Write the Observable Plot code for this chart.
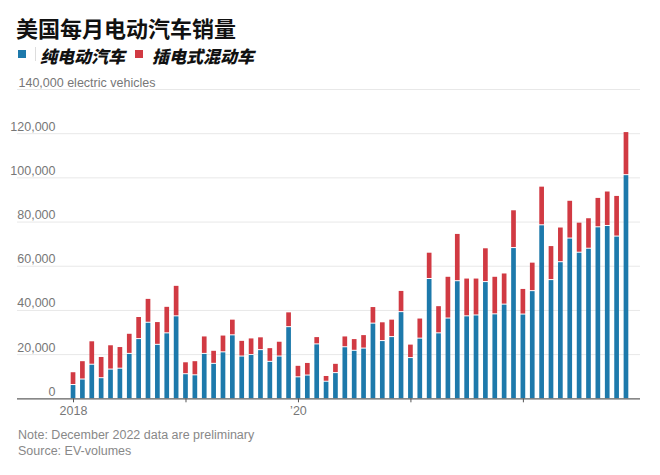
<!DOCTYPE html>
<html>
<head>
<meta charset="utf-8">
<script src="https://cdn.jsdelivr.net/npm/d3@7"></script>
<script src="https://cdn.jsdelivr.net/npm/@observablehq/plot@0.6"></script>
<style>
  html, body { margin: 0; padding: 0; background: #fff; }
  body { width: 660px; height: 475px; position: relative; overflow: hidden; }
  #title { position: absolute; left: 16px; top: 14px; font-family: "Noto Sans CJK SC", sans-serif; font-weight: 700; font-size: 22px; line-height: 26px; color: #111; white-space: nowrap; }
  .lg { position: absolute; top: 43px; font-family: "Noto Sans CJK SC", sans-serif; font-weight: 900; font-style: italic; font-size: 17px; color: #111; white-space: nowrap; }
  .sw { position: absolute; top: 50px; width: 8px; height: 8px; }
  #sep { position: absolute; left: 35px; top: 47px; width: 1px; height: 14px; background: #ddd; }
  #chart { position: absolute; left: 0; top: 66px; }
  .foot { position: absolute; left: 18px; font-family: "Liberation Sans Narrow", "Liberation Sans", sans-serif; font-size: 12.5px; color: #888; white-space: nowrap; }
</style>
</head>
<body>
<div id="title">美国每月电动汽车销量</div>
<div class="sw" style="left:18px;background:#1d79ab"></div>
<div id="sep"></div>
<div class="lg" id="lg1" style="left:40px"></div>
<div class="sw" style="left:135px;background:#d13a43"></div>
<div class="lg" id="lg2" style="left:152px"></div>
<div id="chart"></div>
<div class="foot" style="top:428px">Note: December 2022 data are preliminary</div>
<div class="foot" style="top:444px">Source: EV-volumes</div>
<script>
const seriesNames = ["纯电动汽车", "插电式混动车"];
const seriesColors = ["#1d79ab", "#d13a43"];
const years = [2018, 2019, 2020, 2021, 2022];
const yearLabels = ["2018", "", "’20", "", ""];
const yTicks = [0, 20000, 40000, 60000, 80000, 100000, 120000];
const yTopTick = 140000;
const yTopLabel = "140,000 electric vehicles";

// Battery-electric (BEV) monthly sales, Jan 2018 – Dec 2022
const bev = [
  6000, 8500, 15200, 9100, 13000, 13400, 20100, 26800, 34200, 24200, 29400, 37100,
  10900, 10400, 20100, 15600, 20800, 28500, 18900, 19600, 21800, 16500, 18900, 32200,
  9500, 10300, 24400, 7500, 11400, 23100, 21500, 22500, 33800, 25900, 27700, 39000,
  18200, 27000, 54000, 29400, 36100, 53000, 37100, 37500, 52600, 38000, 42400, 68000,
  37900, 48500, 78300, 53500, 61600, 72300, 65900, 67700, 77400, 78000, 73200, 101000
];
// Plug-in hybrid (PHEV) monthly sales
const phev = [
  5800, 8300, 10600, 9600, 11000, 9800, 9100, 10000, 10800, 10300, 12000, 13800,
  5400, 6400, 7900, 5900, 7600, 7100, 7100, 7500, 5800, 6200, 6700, 6700,
  5200, 5700, 3300, 2600, 4200, 4900, 5300, 6100, 7500, 8500, 7900, 9600,
  6100, 9100, 11900, 12300, 18900, 21400, 17100, 16700, 15300, 17000, 14100, 17100,
  11600, 12900, 17500, 15400, 15700, 17100, 13600, 13800, 13300, 15600, 18400, 19500
];

const months = years.flatMap(y => d3.range(1, 13).map(m => `${y}-${String(m).padStart(2, "0")}`));
const rows = months.map((m, i) => ({month: m, bev: bev[i], phev: phev[i]}));
const yearTicks = years.map(y => `${y}-01`);
const yearLabelOf = new Map(yearTicks.map((t, i) => [t, yearLabels[i]]));

document.getElementById("lg1").textContent = seriesNames[0];
document.getElementById("lg2").textContent = seriesNames[1];

const H = 356;
const chart = Plot.plot({
  width: 660,
  height: H,
  marginLeft: 17,
  marginRight: 20,
  marginTop: 23,
  marginBottom: 23.7,
  style: {fontFamily: "'Liberation Sans Narrow', 'Liberation Sans', sans-serif", fontSize: "12.5px", color: "#777", background: "#fff"},
  x: {type: "band", domain: months, range: [66, 633], padding: 0.5, round: false, axis: null, label: null},
  y: {domain: [0, 140000], axis: null, label: null},
  marks: [
    Plot.ruleY(yTicks.concat([yTopTick]), {stroke: "#e8e8e8", strokeWidth: 1}),
    Plot.barY(rows, {x: "month", y1: 0, y2: "bev", fill: seriesColors[0]}),
    Plot.barY(rows, {x: "month", y1: "bev", y2: d => d.bev + d.phev, fill: seriesColors[1], insetBottom: 1}),
    Plot.ruleY([0], {stroke: "#666", strokeWidth: 1.2}),
    Plot.text(yTicks, {frameAnchor: "left", y: d => d, text: d => d3.format(",")(d), textAnchor: "end", dx: 38, dy: -7, fill: "#777"}),
    Plot.text([yTopTick], {frameAnchor: "left", y: d => d, text: () => yTopLabel, textAnchor: "start", dx: 1, dy: -7, fill: "#777"}),
    Plot.axisX({ticks: yearTicks, tickFormat: d => yearLabelOf.get(d), tickSize: 4, tickPadding: 3, stroke: "#555", fill: "#777", label: null})
  ]
});
document.getElementById("chart").appendChild(chart);
</script>
</body>
</html>
